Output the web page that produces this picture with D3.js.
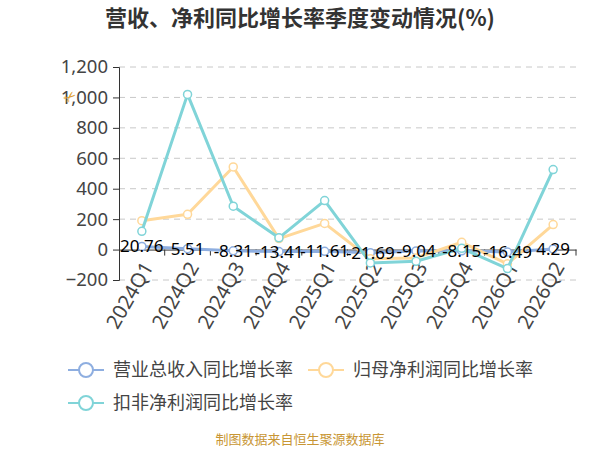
<!DOCTYPE html>
<html>
<head>
<meta charset="utf-8">
<script src="https://cdn.jsdelivr.net/npm/d3@7"></script>
<style>
  body { margin: 0; background: #fff; }
  svg { font-family: "Noto Sans CJK SC", "Noto Sans", sans-serif; }
</style>
</head>
<body>
<div id="chart"></div>
<script>
// quarters and series (%)
const quarters = ["2024Q1", "2024Q2", "2024Q3", "2024Q4", "2025Q1", "2025Q2", "2025Q3", "2025Q4", "2026Q1", "2026Q2"];
const revenueGrowth = [20.76, 5.51, -8.31, -13.41, -11.61, -21.69, -9.04, -8.15, -16.49, 4.29];
const netProfitGrowth = [190, 232, 543, 72, 172, -60, -55, 48, -94, 164];
const deductedProfitGrowth = [120, 1020, 285, 77, 322, -88, -77, 8, -125, 526];
const yTicks = [-200, 0, 200, 400, 600, 800, 1000, 1200];

const series = [
    { name: "营业总收入同比增长率", values: revenueGrowth, color: "#8eaee0" },
    { name: "归母净利润同比增长率", values: netProfitGrowth, color: "#ffd899" },
    { name: "扣非净利润同比增长率", values: deductedProfitGrowth, color: "#80d4d8" }
];

const width = 600, height = 450;
const plot = { left: 119, right: 576, top: 67, bottom: 280 };

const svg = d3.select("#chart").append("svg")
    .attr("width", width)
    .attr("height", height)
    .attr("viewBox", [0, 0, width, height]);

const x = d3.scaleBand().domain(quarters).range([plot.left, plot.right]);
const y = d3.scaleLinear().domain([-200, 1200]).range([plot.bottom, plot.top]);
const cx = d => x(d) + x.bandwidth() / 2;

// title
svg.append("text")
    .attr("x", 300).attr("y", 26)
    .attr("text-anchor", "middle")
    .attr("font-size", 22).attr("font-weight", "bold")
    .attr("fill", "#333")
    .text("营收、净利同比增长率季度变动情况(%)");

// dashed grid
svg.append("g")
    .selectAll("line")
    .data(yTicks.filter(t => t !== 0))
    .join("line")
    .attr("x1", plot.left).attr("x2", plot.right)
    .attr("y1", d => y(d)).attr("y2", d => y(d))
    .attr("stroke", "#c8c8c8")
    .attr("stroke-dasharray", "6,5");

// y axis
const yAxis = svg.append("g")
    .attr("transform", `translate(${plot.left},0)`)
    .call(d3.axisLeft(y).tickValues(yTicks).tickSize(6).tickPadding(5).tickFormat(d3.format(",")));
yAxis.select(".domain").attr("stroke", "#333");
yAxis.selectAll(".tick line").attr("stroke", "#333");
yAxis.selectAll("text").attr("font-size", 18.5).attr("fill", "#444")
    .attr("font-family", "\"Noto Sans\", sans-serif");

// x axis at zero
const xAxis = svg.append("g")
    .attr("transform", `translate(0,${y(0)})`)
    .call(d3.axisBottom(x).tickSize(0).tickFormat(""));
xAxis.select(".domain").attr("stroke", "#333");
xAxis.append("g")
    .selectAll("line")
    .data(d3.range(1, quarters.length + 1))
    .join("line")
    .attr("x1", i => plot.left + i * x.bandwidth())
    .attr("x2", i => plot.left + i * x.bandwidth())
    .attr("y1", 0).attr("y2", 6)
    .attr("stroke", "#333");

svg.append("g")
    .selectAll("text")
    .data(quarters)
    .join("text")
    .attr("transform", d => `translate(${cx(d) + 6},${y(0) + 14}) rotate(-60)`)
    .attr("text-anchor", "end")
    .attr("dy", "0.35em")
    .attr("font-size", 20)
    .attr("fill", "#444")
    .attr("font-family", "\"Noto Sans\", sans-serif")
    .text(d => d);

// lines and points
const line = d3.line()
    .x((v, i) => cx(quarters[i]))
    .y(v => y(v));

series.forEach(s => {
    const g = svg.append("g");
    g.append("path")
        .datum(s.values)
        .attr("d", line)
        .attr("fill", "none")
        .attr("stroke", s.color)
        .attr("stroke-width", 3)
        .attr("stroke-linejoin", "round");
    g.selectAll("circle")
        .data(s.values)
        .join("circle")
        .attr("cx", (v, i) => cx(quarters[i]))
        .attr("cy", v => y(v))
        .attr("r", 4)
        .attr("fill", "#fff")
        .attr("stroke", s.color)
        .attr("stroke-width", 1.5);
});

// data labels for revenue growth
svg.append("g")
    .selectAll("text")
    .data(revenueGrowth)
    .join("text")
    .attr("x", (v, i) => cx(quarters[i]))
    .attr("y", v => y(v) + 6)
    .attr("text-anchor", "middle")
    .attr("font-size", 17)
    .attr("fill", "#000")
    .attr("font-family", "\"Noto Sans\", sans-serif")
    .text(d => d);

// small watermark glyph
svg.append("text")
    .attr("transform", "translate(70,97) rotate(-40)")
    .attr("text-anchor", "middle")
    .attr("dy", "0.35em")
    .attr("font-size", 15)
    .attr("fill", "#e0a030")
    .attr("font-family", "DejaVu Sans")
    .text("✂");

// legend
const legendPos = [
    { x: 68, y: 370 },
    { x: 308, y: 370 },
    { x: 68, y: 403 }
];
series.forEach((s, i) => {
    const p = legendPos[i];
    const g = svg.append("g").attr("transform", `translate(${p.x},${p.y})`);
    g.append("line")
        .attr("x1", 0).attr("x2", 36)
        .attr("stroke", s.color).attr("stroke-width", 2);
    g.append("circle")
        .attr("cx", 18).attr("r", 7)
        .attr("fill", "#fff")
        .attr("stroke", s.color).attr("stroke-width", 2);
    g.append("text")
        .attr("x", 45).attr("dy", "0.35em")
        .attr("font-size", 18)
        .attr("fill", "#444")
        .text(s.name);
});

// footer
svg.append("text")
    .attr("x", 300).attr("y", 444)
    .attr("text-anchor", "middle")
    .attr("font-size", 13)
    .attr("fill", "#c89634")
    .text("制图数据来自恒生聚源数据库");
</script>
</body>
</html>
